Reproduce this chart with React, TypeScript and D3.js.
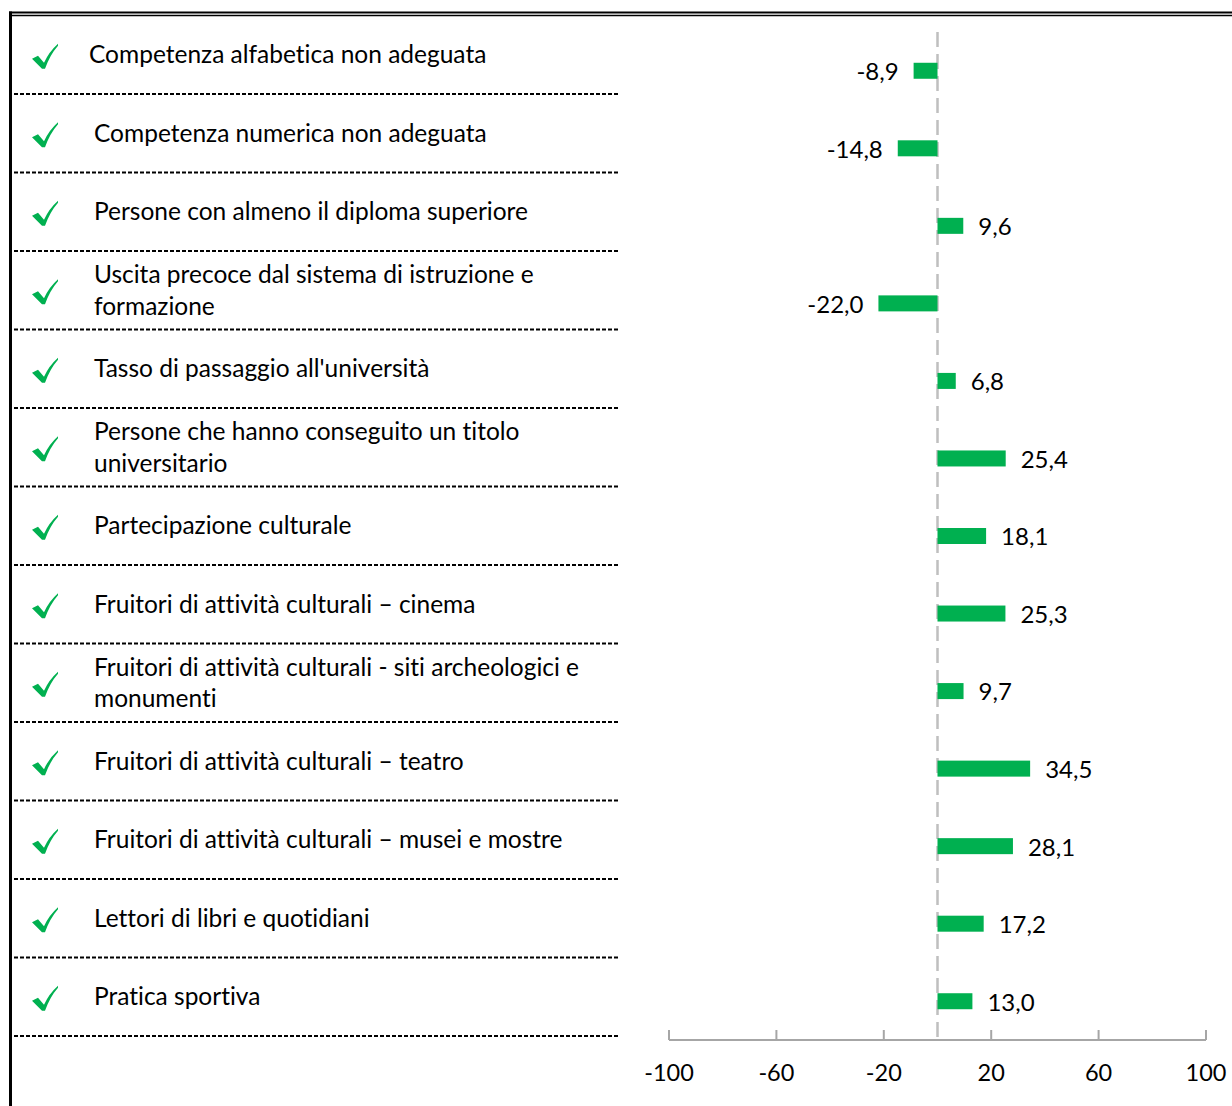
import React from "react";
import * as d3 from "d3";

// Indicator names (line breaks as drawn in the table)
const categories: string[][] = [
  ["Competenza alfabetica non adeguata"],
  ["Competenza numerica non adeguata"],
  ["Persone con almeno il diploma superiore"],
  ["Uscita precoce dal sistema di istruzione e", "formazione"],
  ["Tasso di passaggio all'università"],
  ["Persone che hanno conseguito un titolo", "universitario"],
  ["Partecipazione culturale"],
  ["Fruitori di attività culturali – cinema"],
  ["Fruitori di attività culturali - siti archeologici e", "monumenti"],
  ["Fruitori di attività culturali – teatro"],
  ["Fruitori di attività culturali – musei e mostre"],
  ["Lettori di libri e quotidiani"],
  ["Pratica sportiva"],
];

// Percentage change per indicator
const values: number[] = [-8.9, -14.8, 9.6, -22.0, 6.8, 25.4, 18.1, 25.3, 9.7, 34.5, 28.1, 17.2, 13.0];

const tickValues: number[] = [-100, -60, -20, 20, 60, 100];

const GREEN = "#00b050";
const FONT = "Lato, 'Open Sans', sans-serif";

const locale = d3.formatLocale({
  decimal: ",",
  thousands: ".",
  grouping: [3],
  currency: ["", "€"],
  minus: "-",
});
const fmtValue = locale.format(".1f");
const fmtTick = locale.format("d");

export default function App() {
  const W = 1232;
  const H = 1106;
  const keys = categories.map((_, i) => String(i));

  const x = d3.scaleLinear().domain([-100, 100]).range([669, 1206]);
  const rowY = d3.scaleBand<string>().domain(keys).range([15.5, 1036]);
  const barY = d3.scaleBand<string>().domain(keys).range([32, 1040]);
  const barH = 16;
  const axisY = 1040;

  return (
    <svg
      width={W}
      height={H}
      style={{ position: "absolute", left: 0, top: 0, background: "#fff", fontVariantLigatures: "none" }}
      fontFamily={FONT}
    >
      {/* frame: double top rule and heavy left rule */}
      <line x1={9} x2={W} y1={12.5} y2={12.5} stroke="#000" strokeWidth={2} />
      <line x1={11} x2={W} y1={15.5} y2={15.5} stroke="#000" strokeWidth={1.5} />
      <line x1={10.5} x2={10.5} y1={11.5} y2={H} stroke="#000" strokeWidth={3} />

      {/* table rows */}
      {categories.map((lines, i) => {
        const y0 = rowY(keys[i])!;
        const cy = y0 + rowY.bandwidth() / 2;
        const lx = i === 0 ? 89 : 94;
        return (
          <g key={"row" + i}>
            <path
              transform={`translate(32,${cy - 11})`}
              d="M0,15 L6,12 L12,19 Q17,8 26,0 L26,2 Q18,11 13,25 L10,25 Z"
              fill={GREEN}
            />
            {lines.map((t, j) => (
              <text
                key={j}
                x={lx}
                y={cy + (j - (lines.length - 1) / 2) * 31.5}
                dy="0.35em"
                fontSize={24.5}
                fill="#000"
              >
                {t}
              </text>
            ))}
            <line
              x1={14}
              x2={620}
              y1={y0 + rowY.bandwidth()}
              y2={y0 + rowY.bandwidth()}
              stroke="#000"
              strokeWidth={2}
              strokeDasharray="4,2"
            />
          </g>
        );
      })}

      {/* zero reference line */}
      <line
        x1={x(0)}
        x2={x(0)}
        y1={32}
        y2={axisY}
        stroke="#bfbfbf"
        strokeWidth={2.5}
        strokeDasharray="15,7"
      />

      {/* bars and value labels */}
      {values.map((v, i) => {
        const cy = barY(keys[i])! + barY.bandwidth() / 2;
        const x0 = x(Math.min(0, v));
        const x1 = x(Math.max(0, v));
        return (
          <g key={"bar" + i}>
            <rect x={x0} y={cy - barH / 2} width={x1 - x0} height={barH} fill={GREEN} />
            <text
              x={v < 0 ? x0 - 15 : x1 + 15}
              y={cy + 1}
              dy="0.35em"
              fontSize={24}
              textAnchor={v < 0 ? "end" : "start"}
              fill="#000"
            >
              {fmtValue(v)}
            </text>
          </g>
        );
      })}

      {/* value axis */}
      <line x1={x(-100)} x2={x(100)} y1={axisY} y2={axisY} stroke="#a6a6a6" strokeWidth={2} />
      {tickValues.map((t) => (
        <g key={"t" + t}>
          <line x1={x(t)} x2={x(t)} y1={axisY} y2={axisY - 10} stroke="#a6a6a6" strokeWidth={2} />
          <text x={x(t)} y={1073} dy="0.35em" textAnchor="middle" fontSize={23.5} fill="#000">
            {fmtTick(t)}
          </text>
        </g>
      ))}
    </svg>
  );
}
